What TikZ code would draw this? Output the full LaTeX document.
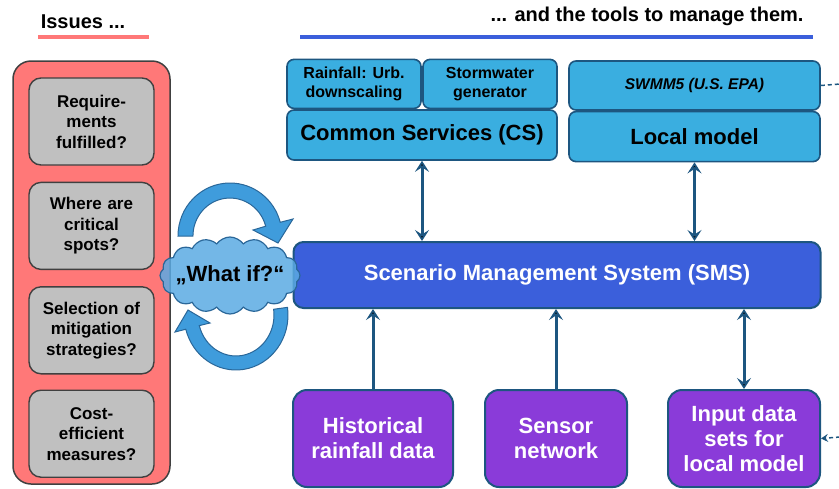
\documentclass[tikz,border=0pt]{standalone}
\usepackage{fontspec}
\setmainfont{Liberation Sans}
\usepackage{xcolor}
\usetikzlibrary{positioning,arrows.meta,shapes.symbols}

\definecolor{issuered}{HTML}{FF7878}
\definecolor{issuegray}{HTML}{C0C0C0}
\definecolor{edgegray}{HTML}{404040}
\definecolor{csblue}{HTML}{3AAEE0}
\definecolor{smsblue}{HTML}{3B5FDB}
\definecolor{datapurple}{HTML}{8A3BD9}
\definecolor{linkblue}{HTML}{1D5680}
\definecolor{arrowblue}{HTML}{3F9CDC}
\definecolor{arrowdark}{HTML}{2A6799}
\definecolor{cloudblue}{HTML}{5BAAE3}

\begin{document}
\begin{tikzpicture}[x=1pt,y=-1pt,>={Stealth[length=11pt,width=14pt,inset=4.5pt]},auto,
	head/.style={anchor=base,font=\fontsize{20}{24}\selectfont\bfseries},
	panel/.style={draw=edgegray,fill=issuered,line width=1.5pt,rounded corners=18pt},
	issue/.style={draw=edgegray,fill=issuegray,line width=1.4pt,rounded corners=12pt,minimum width=125pt,minimum height=87pt,text width=120pt,align=center,inner sep=0pt,font=\fontsize{17}{20.5}\selectfont\bfseries},
	service/.style={draw=linkblue,fill=csblue,line width=1.6pt,rounded corners=7pt,align=center,inner sep=0pt},
	sms/.style={draw=linkblue,fill=smsblue,line width=2pt,rounded corners=10pt,text=white,font=\fontsize{22}{25}\selectfont\bfseries},
	data/.style={draw=linkblue,fill=datapurple,line width=2pt,rounded corners=14pt,text=white,align=center,minimum height=97pt,font=\fontsize{22}{25}\selectfont\bfseries},
	link/.style={draw=linkblue,line width=3pt},
	turn/.style={fill=arrowblue,draw=arrowdark,line width=1pt}]
	\useasboundingbox (0,0) rectangle (839,488);
	% headings
	\node[head] (issuestitle) at (83,28) {Issues ...};
	\node[head] (toolstitle) at (647,21.5) {... and the tools to manage them.};
	\draw[issuered,line width=4pt] (38,37) -- (149,37);
	\draw[smsblue,line width=4pt] (300,37) -- (813,37);

	% issues
	\node[panel,minimum width=157pt,minimum height=423pt] (panel) at (91.5,272.5) {};
	\node[issue] (req) at (91.5,121.5) {Require-\\ments\\fulfilled?};
	\node[issue] (spots) [below=16pt of req] {Where are\\critical\\spots?};
	\node[issue] (mitig) [below=16pt of spots] {Selection of\\mitigation\\strategies?};
	\node[issue] (cost) [below=15pt of mitig] {Cost-\\efficient\\measures?};

	% tools
	\node[service,minimum width=270pt,minimum height=50pt,font=\fontsize{22}{25}\selectfont\bfseries] (cs) at (422,135) {Common Services (CS)};
	\node[service,minimum width=134pt,minimum height=49pt,font=\fontsize{16}{19}\selectfont\bfseries] (rain) [above right=0pt and 0pt of cs.north west] {Rainfall: Urb.\\downscaling};
	\node[service,minimum width=134pt,minimum height=49pt,font=\fontsize{16}{19}\selectfont\bfseries] (storm) [above left=0pt and 0pt of cs.north east] {Stormwater\\generator};
	\node[service,minimum width=251pt,minimum height=49pt,font=\fontsize{15.5}{19}\selectfont\bfseries\itshape] (swmm) at (694.5,85.5) {SWMM5 (U.S. EPA)};
	\node[service,minimum width=251pt,minimum height=50pt,font=\fontsize{22}{25}\selectfont\bfseries] (local) [below=0pt of swmm] {Local model};
	\node[sms,minimum width=527pt,minimum height=66pt] (smsbox) at (557,275) {Scenario Management System (SMS)};
	\node[data,minimum width=160pt] (hist) at (373,438.5) {Historical\\rainfall data};
	\node[data,minimum width=142pt] (sensor) at (556,438.5) {Sensor\\network};
	\node[data,minimum width=152pt] (input) at (744,438.5) {Input data\\sets for\\local model};
	\coordinate (swmmout) at (840,84);
	\coordinate (inputin) at (840,437);

	\draw[link] (cs.south) edge[<->] (smsbox.north -| cs.south)
		(local.south) edge[<->] (smsbox.north -| local.south)
		(hist.north) edge[->] (smsbox.south -| hist.north)
		(sensor.north) edge[->] (smsbox.south -| sensor.north)
		(input.north) edge[<->] (smsbox.south -| input.north);
	\draw[link,line width=1.5pt,dash pattern=on 4pt off 3pt] (swmm.east) -- (swmmout)
		(inputin) edge[-{Stealth[length=7pt,width=8pt,inset=2.5pt]}] (input.east);

	% what-if loop
	\path[turn] (230,236) ++(180:52 and 53) arc[start angle=180,end angle=345,x radius=52,y radius=53]
		-- (293,219) -- (278,243) -- (253,230) -- (265.7,226.2)
		arc[start angle=345,end angle=180,x radius=37,y radius=38] -- cycle;
	\path[turn] (236,315) ++(-8:52 and 55) arc[start angle=-8,end angle=165,x radius=52,y radius=55]
		-- (175,332) -- (188,310) -- (210,323) -- (236-36.7,315+10.6)
		arc[start angle=165,end angle=-8,x radius=38,y radius=41] -- cycle;
	\node[cloud,cloud puffs=16,cloud puff arc=110,cloud ignores aspect,draw=arrowdark,line width=1.2pt,fill=cloudblue,fill opacity=0.85,minimum width=140pt,minimum height=77pt,inner sep=0pt] (whatif) at (230,275.5) {};
	\node[font=\fontsize{22}{25}\selectfont\bfseries] (whatiftext) at (whatif.center) {„What if?“};
\end{tikzpicture}
\end{document}
